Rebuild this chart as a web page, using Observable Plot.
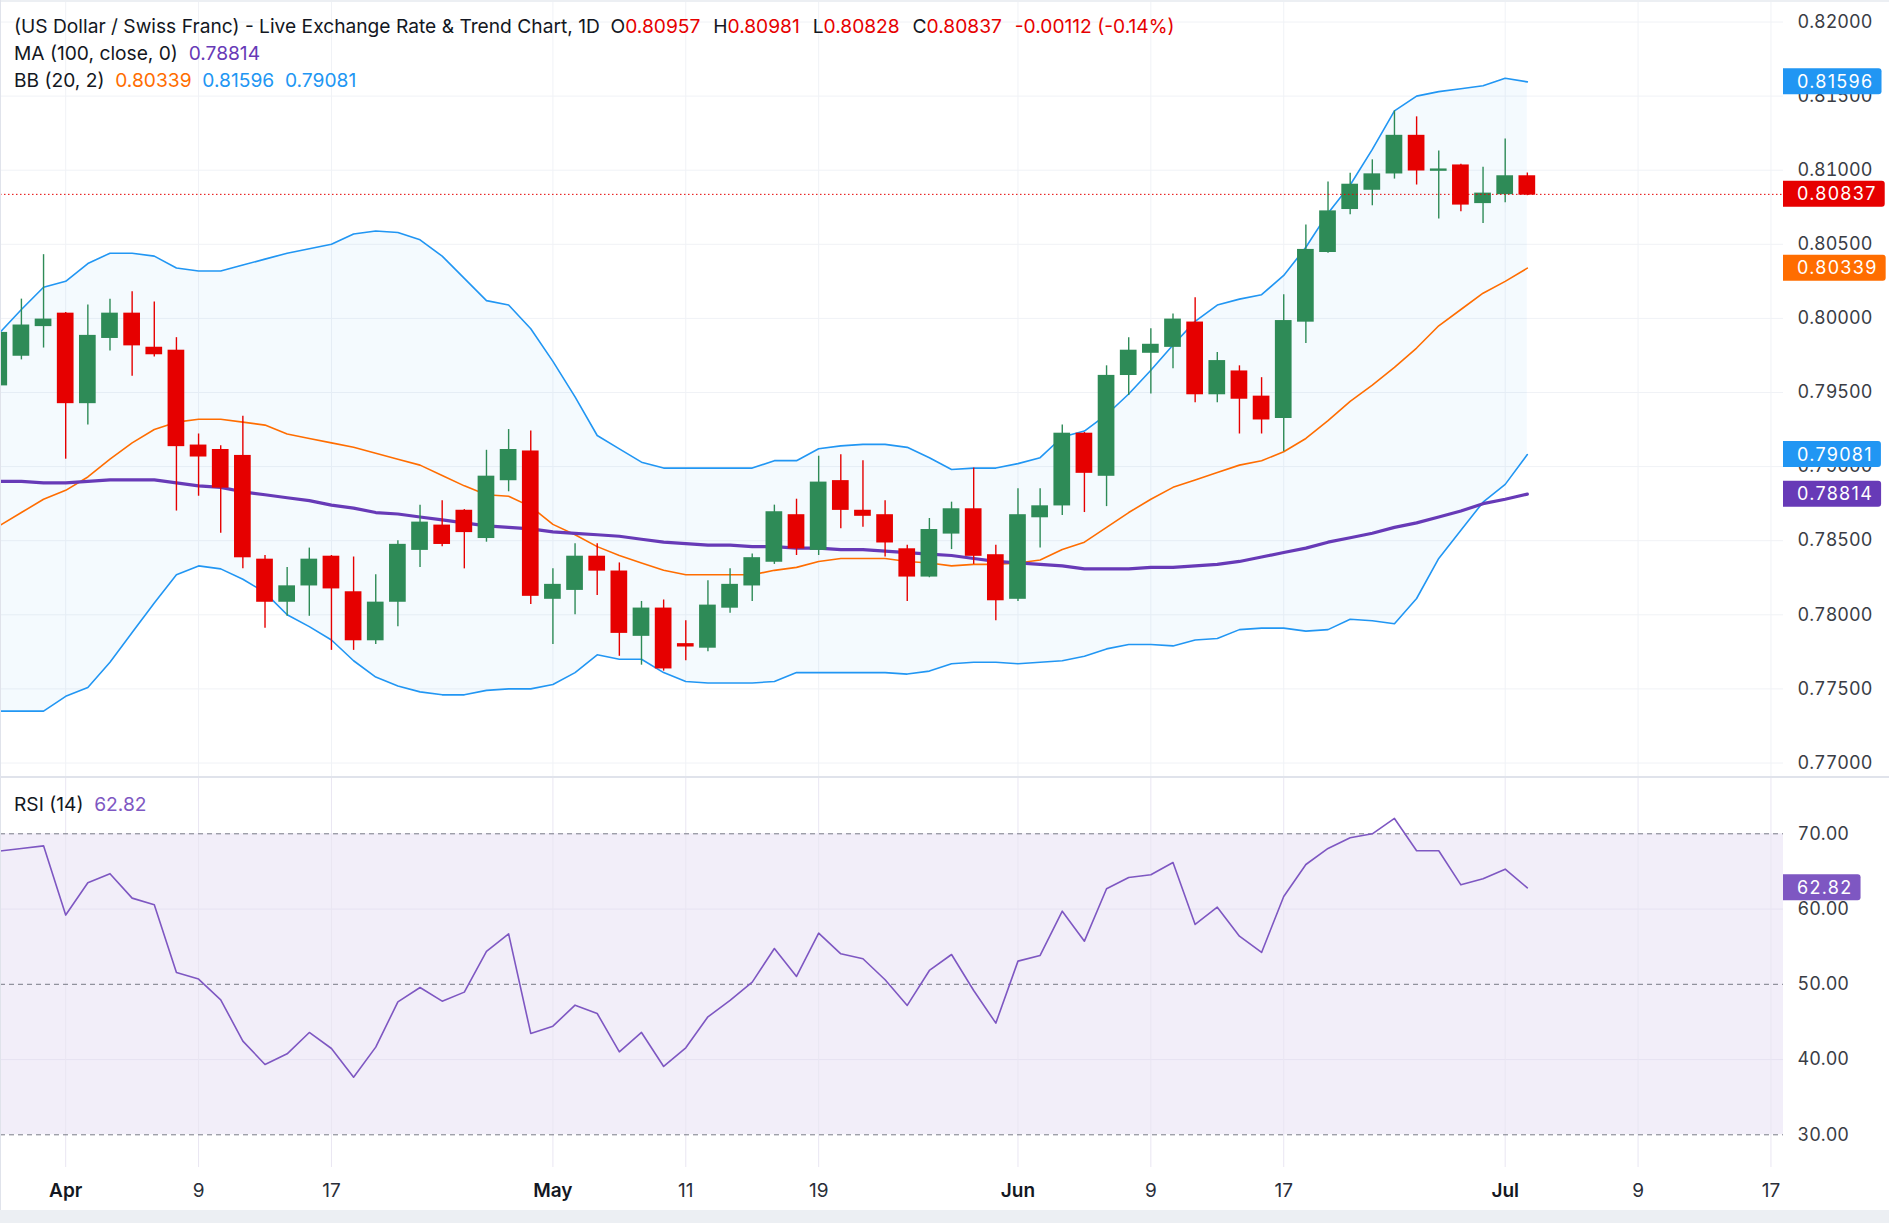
<!DOCTYPE html>
<html>
<head>
<meta charset="utf-8">
<script src="https://cdn.jsdelivr.net/npm/d3@7"></script>
<script src="https://cdn.jsdelivr.net/npm/@observablehq/plot@0.6"></script>
<style>
  html, body { margin: 0; padding: 0; background: #ffffff; }
  body { width: 1889px; height: 1223px; position: relative; overflow: hidden;
         font-family: Inter, "Noto Sans", Roboto, sans-serif; color: #131722; }
  .abs { position: absolute; }
  #pricePane { left: 0; top: 0; }
  #rsiPane { left: 0; top: 778px; }
  #divider { left: 0; top: 776px; width: 1889px; height: 2px; background: #e0e3eb; }
  #topStrip { left: 0; top: 0; width: 1889px; height: 2px; background: #eceff3; }
  #bottomStrip { left: 0; top: 1210px; width: 1889px; height: 13px; background: #eceff3; }
  #leftBorder { left: 0; top: 0; width: 1px; height: 1210px; background: #e0e3eb; }
  .legend { left: 14px; font-size: 19.2px; line-height: 27px; white-space: pre; color: #131722; }
  #legend { top: 13px; }
  #rsiLegend { top: 791px; }
  .gap { margin-left: 7.5px; }
</style>
</head>
<body>
<div id="pricePane" class="abs"></div>
<div id="rsiPane" class="abs"></div>
<div id="divider" class="abs"></div>
<div id="topStrip" class="abs"></div>
<div id="bottomStrip" class="abs"></div>
<div id="leftBorder" class="abs"></div>
<div id="legend" class="abs legend"></div>
<div id="rsiLegend" class="abs legend"></div>
<script>
// ---------------- DATA ----------------
const dates = [
  "2026-03-27","2026-03-30","2026-03-31","2026-04-01","2026-04-02","2026-04-03","2026-04-06","2026-04-07","2026-04-08","2026-04-09",
  "2026-04-10","2026-04-13","2026-04-14","2026-04-15","2026-04-16","2026-04-17","2026-04-20","2026-04-21","2026-04-22","2026-04-23",
  "2026-04-24","2026-04-27","2026-04-28","2026-04-29","2026-04-30","2026-05-01","2026-05-04","2026-05-05","2026-05-06","2026-05-07",
  "2026-05-08","2026-05-11","2026-05-12","2026-05-13","2026-05-14","2026-05-15","2026-05-18","2026-05-19","2026-05-20","2026-05-21",
  "2026-05-22","2026-05-25","2026-05-26","2026-05-27","2026-05-28","2026-05-29","2026-06-01","2026-06-02","2026-06-03","2026-06-04",
  "2026-06-05","2026-06-08","2026-06-09","2026-06-10","2026-06-11","2026-06-12","2026-06-15","2026-06-16","2026-06-17","2026-06-18",
  "2026-06-19","2026-06-22","2026-06-23","2026-06-24","2026-06-25","2026-06-26","2026-06-29","2026-06-30","2026-07-01","2026-07-02"
];
const opens = [
  0.7955,0.7975,0.7995,0.8003,0.7943,0.7987,0.8003,0.7980,0.7978,0.7914,
  0.7911,0.7907,0.7837,0.7809,0.7820,0.7839,0.7815,0.7783,0.7809,0.7844,
  0.7860,0.7870,0.7852,0.7891,0.7910,0.7811,0.7817,0.7839,0.7829,0.7786,
  0.7804,0.7780,0.7778,0.7805,0.7820,0.7836,0.7867,0.7844,0.7890,0.7870,
  0.7867,0.7844,0.7826,0.7855,0.7871,0.7840,0.7811,0.7866,0.7874,0.7922,
  0.7894,0.7962,0.7977,0.7981,0.7997,0.7949,0.7964,0.7947,0.7933,0.7998,
  0.8045,0.8074,0.8087,0.8098,0.8123,0.80998,0.8103,0.8078,0.8084,0.80957
];
const highs = [
  0.8000,0.8013,0.8043,0.8004,0.8009,0.8013,0.8018,0.8011,0.7987,0.7922,
  0.7914,0.7934,0.7840,0.7832,0.7845,0.7840,0.7839,0.7827,0.7850,0.7874,
  0.7877,0.7871,0.7911,0.7925,0.7924,0.7831,0.7848,0.7848,0.7835,0.7809,
  0.7810,0.7796,0.7823,0.7831,0.7841,0.7874,0.7878,0.7907,0.7908,0.7904,
  0.7877,0.7847,0.7865,0.7876,0.7899,0.7847,0.7885,0.7885,0.7928,0.7923,
  0.7968,0.7987,0.7993,0.8003,0.8014,0.7977,0.7968,0.7960,0.8016,0.8063,
  0.8092,0.8098,0.8107,0.8140,0.8136,0.8113,0.8104,0.8102,0.8121,0.80981
];
const lows = [
  0.7950,0.7972,0.7980,0.7905,0.7928,0.7978,0.7961,0.7974,0.7870,0.7880,
  0.7855,0.7831,0.7791,0.7799,0.7799,0.7776,0.7776,0.7780,0.7792,0.7832,
  0.7846,0.7831,0.7849,0.7883,0.7807,0.7780,0.7800,0.7813,0.7772,0.7766,
  0.7762,0.7769,0.7775,0.7801,0.7809,0.7834,0.7840,0.7840,0.7858,0.7859,
  0.7839,0.7809,0.7825,0.7844,0.7834,0.7796,0.7809,0.7845,0.7867,0.7869,
  0.7873,0.7948,0.7949,0.7966,0.7943,0.7943,0.7922,0.7922,0.7910,0.7983,
  0.8044,0.8070,0.8076,0.8094,0.8090,0.8067,0.8072,0.8064,0.8078,0.80828
];
const closes = [
  0.7990,0.7995,0.7999,0.7943,0.7988,0.8003,0.7982,0.7976,0.7914,0.7907,
  0.7886,0.7839,0.7809,0.7819,0.7837,0.7818,0.7783,0.7808,0.7847,0.7862,
  0.7848,0.7856,0.7893,0.7911,0.7813,0.7820,0.7839,0.7830,0.7788,0.7804,
  0.7764,0.77788,0.7806,0.7820,0.7838,0.7869,0.7845,0.7889,0.7871,0.7867,
  0.7849,0.7826,0.7857,0.7871,0.7840,0.7810,0.7867,0.7873,0.7922,0.7896,
  0.7961,0.7978,0.7982,0.7999,0.7949,0.7971,0.7946,0.7932,0.7998,0.8046,
  0.8072,0.8090,0.8097,0.8123,0.8100,0.81003,0.8077,0.8084,0.80957,0.80837
];
const bbUpper = [
  0.7990,0.8006,0.8021,0.8025,0.8037,0.8044,0.8044,0.8042,0.8034,0.8032,
  0.8032,0.8036,0.8040,0.8044,0.8047,0.8050,0.8057,0.8059,0.8058,0.8053,
  0.8042,0.8027,0.8012,0.8009,0.7993,0.7971,0.7947,0.7921,0.7912,0.7903,
  0.7899,0.7899,0.7899,0.7899,0.7899,0.7904,0.7904,0.7912,0.7914,0.7915,
  0.7915,0.7913,0.7906,0.7898,0.7899,0.7899,0.7902,0.7906,0.7920,0.7924,
  0.7935,0.7949,0.7965,0.7982,0.7998,0.8009,0.8013,0.8016,0.8029,0.8048,
  0.8071,0.8090,0.8114,0.8140,0.8150,0.8153,0.8155,0.8157,0.8162,0.81596
];
const bbMiddle = [
  0.7860,0.7869,0.7878,0.7884,0.7893,0.7905,0.7916,0.7925,0.7930,0.7932,
  0.7932,0.7930,0.7928,0.7922,0.7919,0.7916,0.7913,0.7909,0.7905,0.7901,
  0.7894,0.7887,0.7881,0.7880,0.7873,0.7861,0.7854,0.7846,0.7840,0.7835,
  0.7830,0.7827,0.7827,0.7827,0.7827,0.7830,0.7832,0.7836,0.7838,0.7838,
  0.7838,0.7836,0.7835,0.7833,0.7834,0.7834,0.7835,0.7837,0.7844,0.7849,
  0.7859,0.7869,0.7878,0.7886,0.7891,0.7896,0.7901,0.7904,0.7910,0.7919,
  0.7931,0.7944,0.7955,0.7967,0.7980,0.7995,0.8006,0.8017,0.8025,0.80339
];
const bbLower = [
  0.7735,0.7735,0.7735,0.7745,0.7751,0.7768,0.7788,0.7808,0.7827,0.7833,
  0.7831,0.7824,0.7815,0.7800,0.7792,0.7783,0.7769,0.7758,0.7752,0.7748,
  0.7746,0.7746,0.7749,0.7750,0.7750,0.7753,0.7761,0.7773,0.7770,0.7770,
  0.7761,0.7755,0.7754,0.7754,0.7754,0.7755,0.7761,0.7761,0.7761,0.7761,
  0.7761,0.7760,0.7762,0.7767,0.7768,0.7768,0.7767,0.7768,0.7769,0.7772,
  0.7777,0.7780,0.7780,0.7779,0.7783,0.7784,0.7790,0.7791,0.7791,0.7789,
  0.7790,0.7797,0.7796,0.7794,0.7811,0.7838,0.7857,0.7876,0.7888,0.79081
];
const ma100 = [
  0.7890,0.7890,0.7889,0.7889,0.7890,0.7891,0.7891,0.7891,0.7889,0.7887,
  0.7886,0.7883,0.7881,0.7879,0.7877,0.7874,0.7872,0.7869,0.7868,0.7866,
  0.7864,0.7862,0.7860,0.7859,0.7858,0.7856,0.7855,0.7854,0.7853,0.7851,
  0.7849,0.7848,0.7847,0.7847,0.7846,0.7846,0.7845,0.7845,0.7844,0.7844,
  0.7843,0.7842,0.7841,0.7840,0.7838,0.7836,0.7835,0.7834,0.7833,0.7831,
  0.7831,0.7831,0.7832,0.7832,0.7833,0.7834,0.7836,0.7839,0.7842,0.7845,
  0.7849,0.7852,0.7855,0.7859,0.7862,0.7866,0.7870,0.7875,0.7878,0.78814
];
const rsi14 = [
  67.7,68.05,68.4,59.2,63.5,64.7,61.45,60.56,51.57,50.69,
  47.94,42.45,39.35,40.76,43.6,41.47,37.66,41.65,47.67,49.58,
  47.76,48.96,54.36,56.71,43.47,44.44,47.23,46.12,41.03,43.6,
  39.08,41.56,45.68,47.85,50.29,54.76,51.04,56.8,54.05,53.39,
  50.6,47.19,51.84,53.96,49.18,44.84,53.08,53.83,59.72,55.73,
  62.69,64.2,64.55,66.19,57.95,60.25,56.4,54.23,61.67,65.92,
  68.05,69.47,70.0,72.04,67.74,67.74,63.22,64.02,65.3,62.82
];
const priceTicks = [0.77,0.775,0.78,0.785,0.79,0.795,0.80,0.805,0.81,0.815,0.82];
const rsiGridTicks = [40,60];
const rsiLevelTicks = [30,50,70];
const rsiAxisTicks = [30,40,50,60,70];
const timeTickDates = ["2026-04-01","2026-04-09","2026-04-17","2026-05-01","2026-05-11","2026-05-19",
                       "2026-06-01","2026-06-09","2026-06-17","2026-07-01","2026-07-09","2026-07-17"];
const timeTickLabels = ["Apr","9","17","May","11","19","Jun","9","17","Jul","9","17"];
const titleText = "(US Dollar / Swiss Franc) - Live Exchange Rate & Trend Chart, 1D";
const changeText = "-0.00112 (-0.14%)";
const maLabel = "MA (100, close, 0)";
const bbLabel = "BB (20, 2)";
const rsiLabel = "RSI (14)";

// ---------------- STYLE ----------------
const FONT = "Inter, 'Noto Sans', Roboto, sans-serif";
const GRID = "#f0f2f6";
const GREEN = "#2e8b57", RED = "#e60000";
const BLUE = "#2196f3", ORANGE = "#ff6d00", PURPLE = "#673ab7", RSI_COLOR = "#7e57c2";
const AXIS_TEXT = "#3a3d45";
const AXIS_FS = 18, AXIS_LS = 1.3;
const W = 1889, RIGHT = 106;

// trading-day index (weekdays only) counted from the first candle
const t0 = new Date(dates[0] + "T00:00:00Z");
function tradingIndex(s) {
  const t = new Date(s + "T00:00:00Z");
  const d = new Date(t0);
  let n = 0;
  while (d < t) {
    d.setUTCDate(d.getUTCDate() + 1);
    const w = d.getUTCDay();
    if (w !== 0 && w !== 6) n++;
  }
  return n;
}
const rows = dates.map((date, k) => ({
  i: tradingIndex(date), date, open: opens[k], high: highs[k], low: lows[k], close: closes[k],
  upper: bbUpper[k], middle: bbMiddle[k], lower: bbLower[k], ma: ma100[k], rsi: rsi14[k]
}));
const ups = rows.filter(d => d.close >= d.open);
const downs = rows.filter(d => d.close < d.open);
const timeTicks = timeTickDates.map((d, k) => ({i: tradingIndex(d), label: timeTickLabels[k], month: isNaN(+timeTickLabels[k])}));
const xDomain = [0.056, 80.567];
const last = rows[rows.length - 1];
const HALF = 0.377;

const price = Plot.plot({
  width: W, height: 776,
  marginTop: 0, marginBottom: 0, marginLeft: 0, marginRight: RIGHT,
  x: {domain: xDomain, axis: null},
  y: {domain: [0.77, 0.82], range: [762.5, 21.5], label: null},
  style: {background: "transparent", fontFamily: FONT, fontSize: AXIS_FS + "px", overflow: "visible"},
  marks: [
    Plot.ruleY(priceTicks, {stroke: GRID, strokeWidth: 1}),
    Plot.ruleX(timeTicks, {x: "i", stroke: GRID, strokeWidth: 1}),
    Plot.areaY(rows, {x: "i", y1: "lower", y2: "upper", fill: BLUE, fillOpacity: 0.05}),
    Plot.line(rows, {x: "i", y: "upper", stroke: BLUE, strokeWidth: 1.6}),
    Plot.line(rows, {x: "i", y: "lower", stroke: BLUE, strokeWidth: 1.6}),
    Plot.line(rows, {x: "i", y: "middle", stroke: ORANGE, strokeWidth: 1.6}),
    Plot.line(rows, {x: "i", y: "ma", stroke: PURPLE, strokeWidth: 3.2}),
    Plot.ruleX(ups, {x: "i", y1: "low", y2: "high", stroke: GREEN, strokeWidth: 1.4}),
    Plot.ruleX(downs, {x: "i", y1: "low", y2: "high", stroke: RED, strokeWidth: 1.4}),
    Plot.rect(ups, {x1: d => d.i - HALF, x2: d => d.i + HALF, y1: "open", y2: "close", fill: GREEN, insetTop: -0.8, insetBottom: -0.8}),
    Plot.rect(downs, {x1: d => d.i - HALF, x2: d => d.i + HALF, y1: "open", y2: "close", fill: RED, insetTop: -0.8, insetBottom: -0.8}),
    Plot.ruleY([last.close], {stroke: RED, strokeWidth: 1, strokeDasharray: "1.5,2.5"}),
    Plot.axisY(priceTicks, {anchor: "right", tickSize: 0, tickPadding: 14, tickFormat: d => d.toFixed(5),
      fontSize: AXIS_FS, color: AXIS_TEXT, letterSpacing: AXIS_LS, label: null})
  ]
});
document.getElementById("pricePane").appendChild(price);

const rsiChart = Plot.plot({
  width: W, height: 432,
  marginTop: 0, marginBottom: 43, marginLeft: 0, marginRight: RIGHT,
  x: {domain: xDomain, axis: null},
  y: {domain: [30, 70], range: [356.3, 55.3], label: null},
  style: {background: "transparent", fontFamily: FONT, fontSize: AXIS_FS + "px", overflow: "visible"},
  marks: [
    Plot.rect([0], {y1: 30, y2: 70, fill: RSI_COLOR, fillOpacity: 0.1}),
    Plot.ruleY(rsiGridTicks, {stroke: "#e6e2f2", strokeWidth: 1}),
    Plot.ruleX(timeTicks, {x: "i", stroke: "#e9e6f2", strokeWidth: 1}),
    Plot.ruleY(rsiLevelTicks, {stroke: "#787b86", strokeWidth: 1, strokeDasharray: "5,4"}),
    Plot.line(rows, {x: "i", y: "rsi", stroke: RSI_COLOR, strokeWidth: 1.6}),
    Plot.axisY(rsiAxisTicks, {anchor: "right", tickSize: 0, tickPadding: 14, tickFormat: d => d.toFixed(2),
      fontSize: AXIS_FS, color: AXIS_TEXT, letterSpacing: AXIS_LS, label: null}),
    Plot.text(timeTicks.filter(d => d.month), {x: "i", text: "label", frameAnchor: "bottom", dy: 29,
      fontSize: 19, fontWeight: 600, fill: "#131722"}),
    Plot.text(timeTicks.filter(d => !d.month), {x: "i", text: "label", frameAnchor: "bottom", dy: 29,
      fontSize: 19, fill: "#2a2e39"})
  ]
});
document.getElementById("rsiPane").appendChild(rsiChart);

// ---------------- price-scale badges ----------------
function addBadges(svg, chart, items) {
  const y = chart.scale("y");
  const x0 = W - RIGHT;
  const g = d3.select(svg).append("g")
    .attr("font-family", FONT).attr("font-size", AXIS_FS)
    .attr("letter-spacing", AXIS_LS).attr("text-anchor", "start");
  for (const b of items) {
    const cy = y.apply(b.value);
    const grp = g.append("g");
    const rect = grp.append("path").attr("fill", b.color);
    const txt = grp.append("text").attr("x", x0 + 14).attr("y", cy).attr("dy", "0.36em")
      .attr("text-anchor", "start").attr("fill", "#ffffff").text(b.text);
    const w = 14 + txt.node().getComputedTextLength() + 8;
    const h = 26, r = 3, top = cy - h / 2;
    rect.attr("d", `M${x0},${top}H${x0 + w - r}Q${x0 + w},${top} ${x0 + w},${top + r}V${top + h - r}Q${x0 + w},${top + h} ${x0 + w - r},${top + h}H${x0}Z`);
  }
}
addBadges(price, price, [
  {value: last.upper, color: BLUE, text: last.upper.toFixed(5)},
  {value: last.close, color: RED, text: last.close.toFixed(5)},
  {value: last.middle, color: ORANGE, text: last.middle.toFixed(5)},
  {value: last.lower, color: BLUE, text: last.lower.toFixed(5)},
  {value: last.ma, color: PURPLE, text: last.ma.toFixed(5)}
]);
addBadges(rsiChart, rsiChart, [
  {value: last.rsi, color: RSI_COLOR, text: last.rsi.toFixed(2)}
]);

// ---------------- legends ----------------
const sp = (c, t) => `<span style="color:${c}">${t}</span>`;
const grpSpan = (k, v) => `<span class="gap">${k}${sp(RED, v)}</span>`;
document.getElementById("legend").innerHTML =
  `<div>${titleText.replace("&", "&amp;")}  O${sp(RED, last.open.toFixed(5))}` +
  `${grpSpan(" H", last.high.toFixed(5))}${grpSpan(" L", last.low.toFixed(5))}${grpSpan(" C", last.close.toFixed(5))}` +
  `<span class="gap"> ${sp(RED, changeText)}</span></div>` +
  `<div>${maLabel}  ${sp(PURPLE, last.ma.toFixed(5))}</div>` +
  `<div>${bbLabel}  ${sp(ORANGE, last.middle.toFixed(5))}  ${sp(BLUE, last.upper.toFixed(5))}  ${sp(BLUE, last.lower.toFixed(5))}</div>`;
document.getElementById("rsiLegend").innerHTML = `${rsiLabel}  ${sp(RSI_COLOR, last.rsi.toFixed(2))}`;
</script>
</body>
</html>
